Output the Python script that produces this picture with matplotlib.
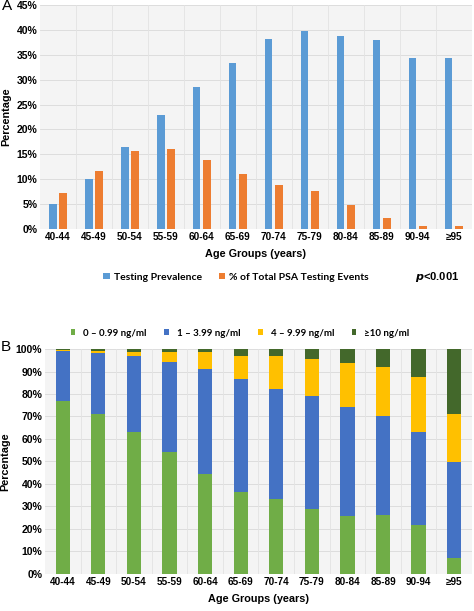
import numpy as np
import matplotlib.pyplot as plt
from matplotlib.patches import Rectangle
from matplotlib.ticker import FuncFormatter, MultipleLocator

AGE_GROUPS = ["40-44", "45-49", "50-54", "55-59", "60-64", "65-69",
              "70-74", "75-79", "80-84", "85-89", "90-94", "\u226595"]

# Panel A
prevalence = [5.1, 10.0, 16.5, 23.0, 28.5, 33.4, 38.1, 39.8, 38.8, 38.0, 34.4, 34.4]
pct_events = [7.3, 11.6, 15.6, 16.1, 13.8, 11.1, 8.8, 7.7, 4.9, 2.2, 0.7, 0.7]

# Panel B (share of tests per PSA band)
psa_0_1 = [77.0, 71.0, 63.0, 54.0, 44.5, 36.5, 33.3, 29.0, 25.8, 26.0, 21.8, 7.0]
psa_1_4 = [22.0, 27.3, 34.0, 40.2, 46.8, 50.3, 48.9, 49.9, 48.2, 44.0, 41.2, 42.7]
psa_4_10 = [0.7, 1.0, 1.7, 4.6, 7.4, 10.3, 14.5, 16.7, 20.0, 22.0, 24.6, 21.3]
psa_10 = [0.3, 0.7, 1.3, 1.2, 1.3, 2.9, 3.3, 4.4, 6.0, 8.0, 12.4, 29.0]

plt.rcParams["font.family"] = ["Liberation Sans", "DejaVu Sans"]
plt.rcParams["hatch.linewidth"] = 0.3
plt.rcParams["hatch.color"] = "#d6d6d6"

fig = plt.figure(figsize=(4.74, 6.11), dpi=100)
axA = fig.add_axes([0.0844, 0.6252, 0.911, 0.3666])
axB = fig.add_axes([0.0949, 0.0606, 0.9008, 0.3682])

x = np.arange(len(AGE_GROUPS))


def style_axis(ax, ymax, step):
    ax.add_patch(Rectangle((0, 0), 1, 1, transform=ax.transAxes, facecolor="#f4f4f4",
                           hatch="xxxxxx", edgecolor="none", zorder=0))
    for s in ax.spines.values():
        s.set_visible(False)
    ax.set_xlim(-0.5, len(AGE_GROUPS) - 0.5)
    ax.set_ylim(0, ymax)
    ax.yaxis.set_major_locator(MultipleLocator(step))
    ax.yaxis.set_major_formatter(FuncFormatter(lambda v, _: f"{v:.0f}%"))
    for v in np.arange(step, ymax + 0.1, step):
        ax.axhline(v, color="#d9d9d9", lw=0.6, zorder=1)
    for b in np.arange(0.5, len(AGE_GROUPS) - 0.5, 1):
        ax.axvline(b, color="#e3e3e3", lw=0.6, zorder=1)
    ax.set_xticks(x)
    ax.set_xticklabels(AGE_GROUPS, fontsize=7.2, fontweight="bold")
    ax.tick_params(axis="both", length=0, pad=2)
    for t in ax.get_yticklabels():
        t.set_fontsize(7.5)
        t.set_fontweight("bold")
    ax.set_ylabel("Percentage", fontsize=7.8, fontweight="bold", labelpad=4)
    ax.set_xlabel("Age Groups (years)", fontsize=7.8, fontweight="bold", labelpad=5)


# ---- Panel A ----
w = 0.21
axA.bar(x - 0.145, prevalence, w, color="#5b9bd5", zorder=3, label="Testing Prevalence")
axA.bar(x + 0.145, pct_events, w, color="#ed7d31", zorder=3,
        label="% of Total PSA Testing Events")
style_axis(axA, 45, 5)
fig.legend(loc="center", bbox_to_anchor=(236 / 474, 1 - 277 / 611), ncol=2, frameon=False,
           prop={"family": "Lato", "weight": "bold", "size": 7.5},
           handlelength=0.6, handleheight=0.6, handletextpad=0.4, columnspacing=1.6)
fig.text(459 / 474, 1 - 277 / 611, r"$\boldsymbol{p}$<0.001", ha="right", va="center",
         fontsize=8, fontweight="bold")
fig.text(2 / 474, 1 - 6 / 611, "A", fontsize=11, ha="left", va="center")

# ---- Panel B ----
wb = 0.4
bottom = np.zeros(len(AGE_GROUPS))
series_b = [(psa_0_1, "#70ad47", "0 \u2013 0.99 ng/ml"),
            (psa_1_4, "#4472c4", "1 \u2013 3.99 ng/ml"),
            (psa_4_10, "#ffc000", "4 \u2013 9.99 ng/ml"),
            (psa_10, "#43682b", "\u226510 ng/ml")]
handles = []
for vals, col, lab in series_b:
    h = axB.bar(x, vals, wb, bottom=bottom, color=col, zorder=3, label=lab)
    handles.append(h)
    bottom += np.array(vals)
style_axis(axB, 100, 10)
axB.legend(handles=handles, loc="center", bbox_to_anchor=(240 / 474, 1 - 333 / 611),
           bbox_transform=fig.transFigure, ncol=4, frameon=False,
           prop={"family": ["Lato", "DejaVu Sans"], "weight": "bold", "size": 7.0},
           handlelength=0.5, handleheight=0.5, handletextpad=0.8, columnspacing=1.8)
fig.text(1 / 474, 1 - 347 / 611, "B", fontsize=11, ha="left", va="center")

plt.savefig("out.png", dpi=100)
